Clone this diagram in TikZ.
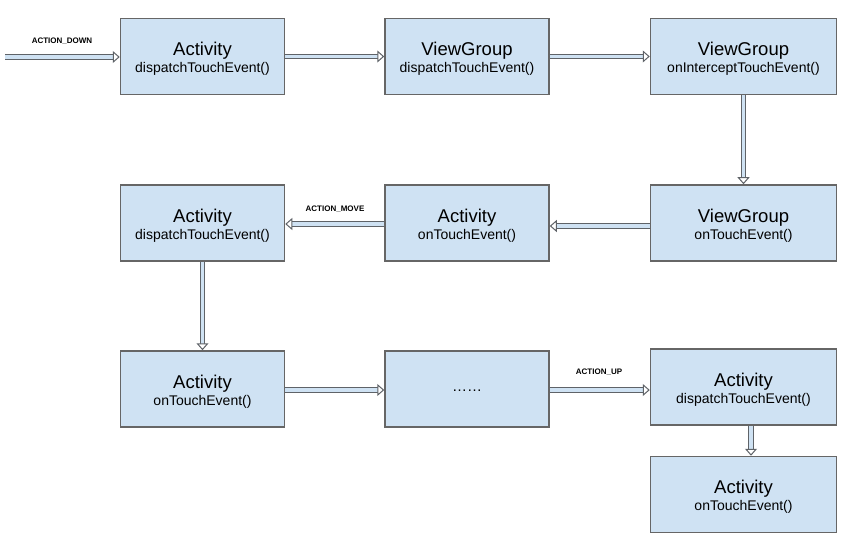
\documentclass[tikz,border=0pt]{standalone}
\usepackage{fontspec}
\setmainfont{Liberation Sans}
\usetikzlibrary{arrows.meta}
\definecolor{boxfill}{HTML}{CFE2F3}
\definecolor{boxline}{HTML}{666666}
\definecolor{arrowfill}{HTML}{CFE2F3}
\definecolor{arrowline}{HTML}{5F6368}
\newcommand{\titlef}{\fontsize{18.5}{17}\selectfont\rule{0pt}{18.5pt}}
\tikzset{
  x=1pt, y=-1pt,
  box/.style={draw=boxline, fill=boxfill, line width=1.5pt, minimum height=76pt,
    align=center, inner sep=0pt, font=\fontsize{14}{17}\selectfont},
  wbox/.style={box, minimum width=164pt},
  nbox/.style={box, minimum width=186pt},
  flow/.style={draw=arrowline, line width=1.2pt, double=arrowfill, double distance=3.5pt,
    -{Triangle[open, length=7pt, width=12pt, line width=1pt, fill=white]}},
  lbl/.style={font=\bfseries\fontsize{8}{9}\selectfont, text=black, inner sep=0pt}
}
\begin{document}
\begin{tikzpicture}
\useasboundingbox[fill=white] (0,0) rectangle (856,548);
% row 1
\node[wbox] (a1) at (202.5,56.5) {{\titlef Activity}\\dispatchTouchEvent()};
\node[wbox] (a2) at (467,56.5) {{\titlef ViewGroup}\\dispatchTouchEvent()};
\node[nbox] (a3) at (743.5,56.5) {{\titlef ViewGroup}\\onInterceptTouchEvent()};
% row 2
\node[wbox] (b1) at (202.5,223) {{\titlef Activity}\\dispatchTouchEvent()};
\node[wbox] (b2) at (467,223) {{\titlef Activity}\\onTouchEvent()};
\node[nbox] (b3) at (743.5,223) {{\titlef ViewGroup}\\onTouchEvent()};
% row 3
\node[wbox] (c1) at (202.5,389) {{\titlef Activity}\\onTouchEvent()};
\node[wbox] (c2) at (467,389) {\fontsize{15}{17}\selectfont\raisebox{-5pt}{……}};
\node[nbox] (c3) at (743.5,387) {{\titlef Activity}\\dispatchTouchEvent()};
\node[nbox] (d3) at (743.5,494.5) {{\titlef Activity}\\onTouchEvent()};
% start
\coordinate (s) at (5,57);
% connectors
\draw[flow] (s) -- (s -| a1.west);
\draw[flow] (a1.east) -- (a2.west);
\draw[flow] (a2.east) -- (a3.west);
\draw[flow] (a3.south) -- (b3.north);
\draw[flow] ([yshift=-3pt]b3.west) -- ([yshift=-3pt]b2.east);
\draw[flow] ([yshift=-1pt]b2.west) -- ([yshift=-1pt]b1.east);
\draw[flow] (b1.south) -- (c1.north);
\draw[flow] ([yshift=-1pt]c1.east) -- ([yshift=-1pt]c2.west);
\draw[flow] ([yshift=-1pt]c2.east) -- ([yshift=-1pt]c2.east -| c3.west);
\draw[flow] ([xshift=7.5pt]c3.south) -- ([xshift=7.5pt]d3.north);
% labels
\node[lbl] (l1) at (62,41) {ACTION\_DOWN};
\node[lbl] (l2) at (335,209) {ACTION\_MOVE};
\node[lbl] (l3) at (599,372) {ACTION\_UP};
\end{tikzpicture}
\end{document}
